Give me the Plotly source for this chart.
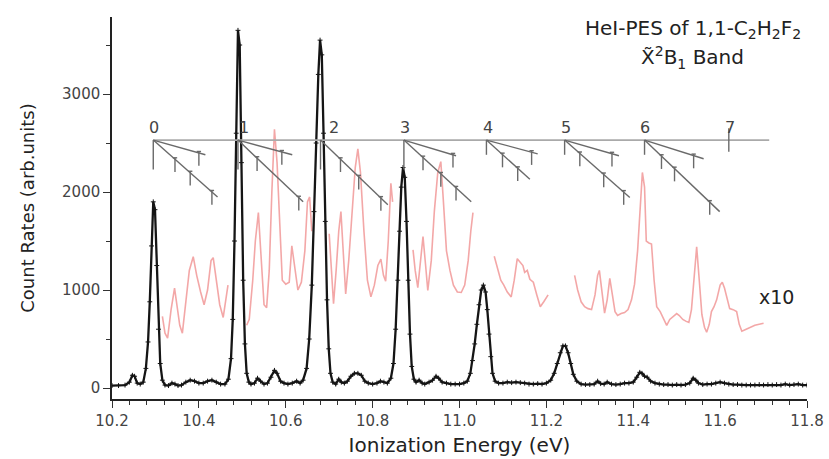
import plotly.graph_objects as go

# ---------------- data ----------------
energy = [10.200, 10.215, 10.230, 10.240, 10.247, 10.252, 10.258, 10.265, 10.272, 10.278,
          10.283, 10.287, 10.291, 10.295, 10.299, 10.303, 10.307, 10.311, 10.316, 10.322,
          10.330, 10.338, 10.345, 10.352, 10.360, 10.370, 10.380, 10.390, 10.400, 10.410,
          10.420, 10.430, 10.440, 10.450, 10.460, 10.468, 10.474, 10.478, 10.482, 10.486,
          10.490, 10.494, 10.498, 10.502, 10.506, 10.510, 10.515, 10.520, 10.528, 10.535,
          10.542, 10.550, 10.558, 10.566, 10.574, 10.580, 10.588, 10.596, 10.605, 10.615,
          10.625, 10.633, 10.640, 10.648, 10.654, 10.660, 10.665, 10.670, 10.675, 10.679,
          10.683, 10.687, 10.691, 10.695, 10.699, 10.703, 10.708, 10.715, 10.722, 10.728,
          10.735, 10.742, 10.750, 10.758, 10.766, 10.774, 10.782, 10.790, 10.800, 10.810,
          10.818, 10.826, 10.834, 10.842, 10.848, 10.853, 10.858, 10.862, 10.866, 10.870,
          10.874, 10.878, 10.882, 10.886, 10.890, 10.895, 10.900, 10.907, 10.914, 10.920,
          10.930, 10.938, 10.946, 10.952, 10.960, 10.970, 10.980, 10.990, 11.000, 11.010,
          11.018, 11.025, 11.030, 11.035, 11.040, 11.045, 11.050, 11.055, 11.060, 11.064,
          11.068, 11.072, 11.076, 11.082, 11.090, 11.100, 11.110, 11.120, 11.130, 11.140,
          11.150, 11.160, 11.170, 11.180, 11.190, 11.200, 11.210, 11.218, 11.225, 11.232,
          11.238, 11.244, 11.250, 11.256, 11.262, 11.270, 11.280, 11.290, 11.300, 11.310,
          11.318, 11.325, 11.333, 11.340, 11.350, 11.360, 11.370, 11.380, 11.390, 11.400,
          11.408, 11.415, 11.420, 11.426, 11.432, 11.440, 11.450, 11.460, 11.470, 11.480,
          11.490, 11.500, 11.510, 11.520, 11.530, 11.538, 11.544, 11.550, 11.560, 11.570,
          11.580, 11.590, 11.600, 11.610, 11.620, 11.630, 11.640, 11.650, 11.660, 11.670,
          11.680, 11.690, 11.700, 11.710, 11.720, 11.730, 11.740, 11.750, 11.760, 11.770,
          11.780, 11.790, 11.800]
counts = [25, 25, 30, 60, 130, 120, 50, 40, 60, 200,
          470, 880, 1450, 1900, 1820, 1250, 600, 250, 80, 30,
          25, 50, 40, 25, 30, 60, 80, 70, 50, 50,
          70, 80, 60, 40, 40, 90, 300, 700, 1500, 2600,
          3650, 3500, 2300, 1100, 450, 150, 60, 40, 50, 100,
          70, 40, 50, 110, 180, 150, 70, 50, 40, 50,
          70, 50, 80, 200, 500, 1050, 1800, 2500, 3200, 3550,
          3400, 2600, 1700, 900, 400, 150, 60, 40, 90, 60,
          50, 70, 120, 150, 150, 130, 70, 50, 40, 50,
          70, 60, 50, 100, 250, 600, 1100, 1600, 2050, 2250,
          2150, 1700, 1100, 550, 220, 90, 60, 80, 50, 40,
          60, 80, 120, 100, 60, 50, 40, 40, 40, 50,
          70, 150, 280, 450, 650, 850, 1000, 1050, 980, 800,
          550, 320, 150, 70, 50, 50, 60, 55, 60, 55,
          50, 40, 40, 45, 40, 50, 80, 150, 250, 360,
          430, 430, 360, 250, 140, 70, 40, 35, 35, 40,
          70, 45, 40, 60, 40, 35, 40, 50, 50, 60,
          110, 160, 150, 120, 110, 70, 50, 40, 35, 35,
          30, 35, 30, 35, 50, 100, 80, 50, 35, 40,
          40, 50, 60, 50, 40, 35, 35, 30, 30, 30,
          30, 35, 30, 35, 30, 35, 30, 40, 30, 35,
          40, 30, 30]

# x10 magnified trace (None = gap where the main peaks are)
red_energy = [10.316, 10.322, 10.328, 10.336, 10.344, 10.350, 10.356, 10.362, 10.370, 10.378,
              10.387, 10.395, 10.404, 10.412, 10.420, 10.428, 10.433, 10.440, 10.448, 10.456,
              10.462, 10.467, None,
              10.510, 10.516, 10.524, 10.530, 10.537, 10.544, 10.550, 10.556, 10.562, 10.568,
              10.574, 10.580, 10.586, 10.592, 10.600, 10.608, 10.614, 10.620, 10.628, 10.636,
              10.644, 10.650, 10.655, 10.660, None,
              10.700, 10.706, 10.710, 10.716, 10.722, 10.727, 10.732, 10.738, 10.745, 10.752,
              10.760, 10.766, 10.772, 10.780, 10.788, 10.796, 10.804, 10.812, 10.819, 10.825,
              10.830, 10.836, 10.842, 10.846, None,
              10.893, 10.898, 10.904, 10.910, 10.916, 10.922, 10.927, 10.935, 10.942, 10.950,
              10.957, 10.963, 10.970, 10.978, 10.986, 10.995, 11.004, 11.012, 11.020, 11.026,
              11.031, None,
              11.080, 11.088, 11.095, 11.102, 11.110, 11.119, 11.126, 11.133, 11.140, 11.146,
              11.150, 11.156, 11.162, 11.170, 11.178, 11.186, 11.194, 11.204, None,
              11.265, 11.272, 11.280, 11.288, 11.296, 11.304, 11.312, 11.318, 11.322, 11.328,
              11.334, 11.340, 11.346, 11.352, 11.358, 11.364, 11.372, 11.380, 11.388, 11.396,
              11.403, 11.410, 11.416, 11.421, 11.426, 11.430, 11.436, 11.442, 11.448, 11.454,
              11.462, 11.470, 11.477, 11.484, 11.492, 11.500, 11.506, 11.514, 11.522, 11.528,
              11.534, 11.540, 11.546, 11.552, 11.558, 11.564, 11.569, 11.575, 11.580, 11.586,
              11.592, 11.600, 11.605, 11.610, 11.616, 11.622, 11.630, 11.638, 11.644, 11.650,
              11.660, 11.670, 11.680, 11.690, 11.700]
red_counts = [730, 560, 510, 800, 1020, 850, 640, 560, 900, 1200,
              1340, 1150, 980, 850, 1000, 1300, 1330, 1100, 850, 720,
              900, 1050, None,
              640, 700, 1100, 1500, 1790, 1300, 850, 820, 1200, 2000,
              2640, 2300, 1600, 1100, 1060, 1080, 1450, 1250, 1000, 1080,
              1400, 1900, 1950, 1600, None,
              1575, 1100, 860, 1200, 1600, 1800, 1400, 960, 1300, 1800,
              2250, 2440, 2200, 1600, 1100, 930, 1050, 1250, 1315, 1150,
              1090, 1500, 2090, 1900, None,
              1410, 1200, 1025, 1300, 1545, 1250, 995, 1300, 1800, 2200,
              2310, 1900, 1400, 1200, 1050, 980, 975, 1050, 1300, 1600,
              1790, None,
              1345, 1200, 1100, 1050, 980, 930, 1100, 1320, 1280, 1250,
              1180, 1200, 1110, 1080, 950, 830, 880, 950, None,
              1150, 1000, 880, 830, 810, 800, 950, 1150, 1200, 950,
              765, 900, 1120, 950, 780, 740, 760, 770, 800, 900,
              1060, 1400, 1900, 2200, 2050, 1500, 1480, 1470, 1100, 830,
              780, 700, 640, 700, 730, 760, 740, 700, 680, 670,
              800, 1100, 1440, 1100, 750, 620, 570, 650, 780, 830,
              900, 1050, 1080, 1020, 900, 810, 800, 780, 650, 580,
              600, 620, 640, 650, 660]

# vibrational progression assignment combs
prog_labels = ["0", "1", "2", "3", "4", "5", "6", "7"]
prog_origin = [10.295, 10.490, 10.680, 10.872, 11.062, 11.242, 11.426, 11.620]
prog_label_x = [10.297, 10.505, 10.710, 10.874, 11.066, 11.246, 11.426, 11.622]
comb_level = 2530
comb_line_end = 11.713
shallow_end_dx = [0.120, 0.125, None, 0.120, 0.118, 0.125, 0.136, None]
shallow_end_y = [2380, 2380, None, 2370, 2390, 2370, 2340, None]
shallow_ticks = [[0.105], [0.101], [], [0.113], [0.104], [0.109], [0.113], []]
steep_end_dx = [0.148, 0.150, 0.155, 0.155, 0.100, 0.150, 0.173, None]
steep_end_y = [1950, 1900, 1870, 1900, 2130, 1945, 1800, None]
steep_ticks = [[0.050, 0.085, 0.135], [0.044, 0.140], [0.046, 0.088, 0.139],
               [0.044, 0.085, 0.120], [0.037, 0.072], [0.035, 0.090, 0.136],
               [0.039, 0.069, 0.150], []]
stub_top = [2530, 2530, 2530, 2530, 2530, 2530, 2530, 2650]
stub_bottom = [2230, 2230, 2230, 2230, 2380, 2380, 2380, 2410]

FONT = "DejaVu Sans, Verdana, sans-serif"

fig = go.Figure()

# magnified (x10) trace
fig.add_trace(go.Scatter(x=red_energy, y=red_counts, mode="lines",
                         line=dict(color="rgba(238,130,130,0.7)", width=1.6),
                         connectgaps=False, hoverinfo="skip", showlegend=False))

# main spectrum
fig.add_trace(go.Scatter(x=energy, y=counts, mode="lines+markers",
                         line=dict(color="#151515", width=2.3),
                         marker=dict(size=3.5, color="#151515", symbol="cross-thin",
                                     line=dict(width=1, color="#151515")),
                         hoverinfo="skip", showlegend=False))

# horizontal comb line
fig.add_trace(go.Scatter(x=[prog_origin[0], comb_line_end], y=[comb_level, comb_level],
                         mode="lines", line=dict(color="#aaaaaa", width=1.6),
                         hoverinfo="skip", showlegend=False))

# diagonal branches + ticks
cx, cy = [], []
tick_len = 130
for i, x0 in enumerate(prog_origin):
    cx += [x0, x0, None]
    cy += [stub_top[i], stub_bottom[i], None]
    for end_dx, end_y, ticks in ((shallow_end_dx[i], shallow_end_y[i], shallow_ticks[i]),
                                 (steep_end_dx[i], steep_end_y[i], steep_ticks[i])):
        if end_dx is None:
            continue
        cx += [x0, x0 + end_dx, None]
        cy += [comb_level, end_y, None]
        for t in ticks:
            yt = comb_level + (end_y - comb_level) * t / end_dx
            cx += [x0 + t, x0 + t, None]
            cy += [yt + 15, yt - tick_len, None]
            cx += [x0 + t - 0.005, x0 + t + 0.005, None]
            cy += [yt + 15, yt + 15, None]
fig.add_trace(go.Scatter(x=cx, y=cy, mode="lines",
                         line=dict(color="#6a6a6a", width=1.4),
                         hoverinfo="skip", showlegend=False))

annotations = []
for lab, lx in zip(prog_labels, prog_label_x):
    annotations.append(dict(x=lx, y=comb_level + 125, text=lab, showarrow=False,
                            font=dict(family=FONT, size=16, color="#444444")))
annotations.append(dict(x=11.729, y=930, text="x10", showarrow=False,
                        font=dict(family=FONT, size=19, color="#222222")))
annotations.append(dict(x=11.537, y=3660,
                        text="HeI-PES of 1,1-C<sub>2</sub>H<sub>2</sub>F<sub>2</sub>",
                        showarrow=False, font=dict(family=FONT, size=20, color="#222222")))
annotations.append(dict(x=11.537, y=3370,
                        text="X\u0303<sup>2</sup>B<sub>1</sub> Band",
                        showarrow=False, font=dict(family=FONT, size=20, color="#222222")))

fig.update_layout(
    width=829, height=459,
    margin=dict(l=112, r=22, t=17, b=60),
    paper_bgcolor="white", plot_bgcolor="white",
    font=dict(family=FONT, color="#333333"),
    annotations=annotations,
    xaxis=dict(range=[10.2, 11.8], tick0=10.2, dtick=0.2, tickformat=".1f",
               automargin=False, ticklabeloverflow="allow",
               ticks="outside", ticklen=7, tickwidth=1.3, tickcolor="#333",
               minor=dict(dtick=0.04, ticks="outside", ticklen=4, tickcolor="#333"),
               showline=True, linecolor="#222", linewidth=1.5,
               showgrid=False, zeroline=False,
               tickfont=dict(size=15, color="#444"),
               title=dict(text="Ionization Energy (eV)", font=dict(size=20, color="#222"),
                          standoff=9)),
    yaxis=dict(range=[-112, 3786], tick0=0, dtick=1000,
               automargin=False,
               ticks="outside", ticklen=7, tickwidth=1.3, tickcolor="#333",
               minor=dict(dtick=500, ticks="outside", ticklen=4, tickcolor="#333"),
               showline=True, linecolor="#222", linewidth=1.5,
               showgrid=False, zeroline=False,
               tickfont=dict(size=15, color="#444"),
               title=dict(text="Count Rates (arb.units)", font=dict(size=18, color="#222"),
                          standoff=23)),
)

# remove the browser's default 8px page margin so the 829x459 figure fills the window
fig.write_html("out.html",
               config={"displayModeBar": False},
               post_script="document.body.style.margin='0';"
                           "document.body.style.overflow='hidden';")
